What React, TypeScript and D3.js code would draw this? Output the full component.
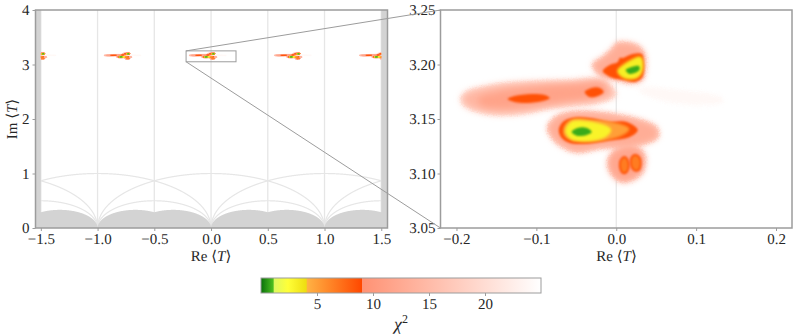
import React, { useRef, useEffect } from 'react';
import * as d3 from 'd3';

type Pt = [number, number];

// chi^2 colour map
const chiStops = [0, 1.1, 1.15, 2.4, 4.05, 4.1, 9, 9.05, 25];
const chiColors = ['#0a700a', '#4cc020', '#dcf860', '#ffff38', '#eedd10', '#ffb244', '#ff4800', '#ff9274', '#ffffff'];

const xTicksLeft = [-1.5, -1, -0.5, 0, 0.5, 1, 1.5];
const yTicksLeft = [0, 1, 2, 3, 4];
const xTicksRight = [-0.2, -0.1, 0, 0.1, 0.2];
const yTicksRight = [3.05, 3.1, 3.15, 3.2, 3.25];
const barTicks = [5, 10, 15, 20];

// periodic copies of the allowed region in the left panel
const tileOffsets = [-1.5, -0.75, 0, 0.75, 1.5];
const zoomBox = { re: [-0.22, 0.22], im: [3.05, 3.25] };

// fundamental domain geometry
const unitCentres = [-2, -1, 0, 1, 2];
const halfCentres = [-1.5, -0.5, 0.5, 1.5];
const thirdCentres = [-5 / 3, -4 / 3, -2 / 3, -1 / 3, 1 / 3, 2 / 3, 4 / 3, 5 / 3];
const verticals = [-1.5, -1, -0.5, 0, 0.5, 1, 1.5];

// chi^2 contours, (Re T, Im T)
const tail: Pt[] = [[0.0294, 3.1784], [0.0796, 3.1766], [0.1335, 3.1693], [0.1335, 3.1656], [0.0796, 3.1638], [0.0294, 3.1748]];
const stripHalo: Pt[] = [[-0.1936, 3.1693], [-0.1861, 3.1748], [-0.1685, 3.1785], [-0.1397, 3.1821], [-0.0984, 3.184], [-0.0559, 3.1849], [-0.0182, 3.1858], [-0.0056, 3.1785], [-0.0019, 3.172], [-0.0232, 3.1656], [-0.0559, 3.1629], [-0.0858, 3.1601], [-0.1184, 3.1555], [-0.1522, 3.1546], [-0.1773, 3.1582], [-0.1898, 3.1628]];
const stripInner: Pt[] = [[-0.1735, 3.1683], [-0.1459, 3.1748], [-0.0959, 3.1793], [-0.052, 3.1811], [-0.0157, 3.182], [-0.0132, 3.1747], [-0.0332, 3.1692], [-0.0645, 3.1665], [-0.1084, 3.1619], [-0.146, 3.1601], [-0.1685, 3.1628]];
const stripRedA: Pt[] = [[-0.136, 3.1683], [-0.1272, 3.1711], [-0.1059, 3.173], [-0.0896, 3.172], [-0.0833, 3.1693], [-0.0921, 3.1665], [-0.1109, 3.1647], [-0.1272, 3.1656]];
const stripRedB: Pt[] = [[-0.0395, 3.1748], [-0.0307, 3.1785], [-0.0207, 3.1785], [-0.0157, 3.1748], [-0.0232, 3.1711], [-0.0332, 3.1702]];

const upperHalo: Pt[] = [[-0.0294, 3.2005], [-0.0169, 3.2069], [-0.0044, 3.2152], [0.0006, 3.2197], [0.0169, 3.2197], [0.0294, 3.2161], [0.0357, 3.2087], [0.0357, 3.1931], [0.032, 3.1858], [0.0194, 3.1831], [0.0006, 3.1858], [-0.0169, 3.1885], [-0.0269, 3.195]];
const upperRed: Pt[] = [[-0.0169, 3.1941], [-0.0081, 3.1996], [0.0019, 3.2023], [0.0044, 3.206], [0.0081, 3.206], [0.0207, 3.2097], [0.032, 3.2097], [0.0345, 3.2023], [0.0345, 3.1931], [0.032, 3.1876], [0.0232, 3.184], [0.0081, 3.1858], [-0.0044, 3.1876], [-0.0119, 3.1904]];
const upperYellow: Pt[] = [[0.0031, 3.1941], [0.0094, 3.1987], [0.0194, 3.2032], [0.0294, 3.206], [0.032, 3.2014], [0.0307, 3.1931], [0.0269, 3.1895], [0.0182, 3.1876], [0.0081, 3.1895]];
const upperGreen: Pt[] = [[0.0119, 3.195], [0.0194, 3.1977], [0.0282, 3.1986], [0.0294, 3.1959], [0.0257, 3.1931], [0.0169, 3.1913], [0.0132, 3.1931]];

const middleHalo: Pt[] = [[-0.0858, 3.1418], [-0.0771, 3.151], [-0.062, 3.1555], [-0.0332, 3.1565], [0.0006, 3.1537], [0.0294, 3.1491], [0.0507, 3.1418], [0.052, 3.1335], [0.0382, 3.128], [0.0081, 3.1244], [-0.0207, 3.1235], [-0.0495, 3.1198], [-0.0708, 3.1262], [-0.0808, 3.1335]];
const middleRed: Pt[] = [[-0.072, 3.14], [-0.067, 3.1473], [-0.0558, 3.151], [-0.0332, 3.151], [-0.0081, 3.1473], [0.0132, 3.1473], [0.0269, 3.14], [0.0169, 3.1335], [-0.0119, 3.1299], [-0.042, 3.1271], [-0.0583, 3.128], [-0.0683, 3.1326]];
const middleOrange: Pt[] = [[-0.0645, 3.14], [-0.0608, 3.1455], [-0.052, 3.1491], [-0.0332, 3.1482], [-0.0081, 3.1464], [0.0144, 3.1409], [0.0069, 3.1362], [-0.0144, 3.1317], [-0.0395, 3.1308], [-0.0558, 3.1317], [-0.0633, 3.1354]];
const middleYellow: Pt[] = [[-0.062, 3.139], [-0.0558, 3.1464], [-0.042, 3.1473], [-0.0207, 3.1446], [-0.0081, 3.14], [-0.0169, 3.1335], [-0.042, 3.1308], [-0.0558, 3.1326]];
const middleGreen: Pt[] = [[-0.0558, 3.1381], [-0.0483, 3.1418], [-0.037, 3.1418], [-0.0307, 3.1381], [-0.037, 3.1354], [-0.0483, 3.1345]];

const lowerHalo: Pt[] = [[-0.0107, 3.1106], [-0.0044, 3.1198], [0.0081, 3.1244], [0.0257, 3.1244], [0.0357, 3.117], [0.0332, 3.1014], [0.0207, 3.0941], [0.0069, 3.0923], [-0.0056, 3.0987]];
const lowerLobeA: Pt[] = [[0.0044, 3.107], [0.0056, 3.1125], [0.0107, 3.1152], [0.0144, 3.1125], [0.0157, 3.106], [0.0132, 3.1014], [0.0081, 3.1005]];
const lowerLobeB: Pt[] = [[0.0182, 3.1088], [0.0194, 3.1152], [0.0245, 3.117], [0.0295, 3.1143], [0.0307, 3.1088], [0.0282, 3.1033], [0.0219, 3.1033]];

// paint order, back to front: contour, chi^2 level, blur and outward growth in the right panel
const layers: { pts: Pt[]; level: number; blur: number; grow?: number; speckle?: boolean; rim?: boolean }[] = [
  { pts: tail, level: 24, blur: 2, speckle: true },
  { pts: stripHalo, level: 21, blur: 1.4, grow: 1.2, speckle: true },
  { pts: upperHalo, level: 19, blur: 1.4, grow: 0.4, speckle: true },
  { pts: middleHalo, level: 19, blur: 1.4, grow: 0.8, speckle: true },
  { pts: lowerHalo, level: 19, blur: 1.4, speckle: true },
  { pts: stripHalo, level: 14.5, blur: 3.5 },
  { pts: stripInner, level: 11.5, blur: 3 },
  { pts: upperHalo, level: 13, blur: 3 },
  { pts: middleHalo, level: 13, blur: 3 },
  { pts: lowerHalo, level: 12, blur: 3 },
  { pts: stripRedA, level: 8.6, blur: 0.9 },
  { pts: stripRedB, level: 8.6, blur: 0.9 },
  { pts: lowerLobeA, level: 6.6, blur: 0.9, rim: true },
  { pts: lowerLobeB, level: 6.6, blur: 0.9, rim: true },
  { pts: upperRed, level: 8.6, blur: 0.9 },
  { pts: upperYellow, level: 3.2, blur: 1.5, grow: 1.5 },
  { pts: upperGreen, level: 0.8, blur: 1 },
  { pts: middleRed, level: 8.6, blur: 0.9 },
  { pts: middleOrange, level: 5, blur: 1.4, grow: 1.5 },
  { pts: middleYellow, level: 3, blur: 1.5, grow: 1.5 },
  { pts: middleGreen, level: 0.8, blur: 1 },
];

const WIDTH = 797;
const HEIGHT = 336;
const FONT = '"Liberation Serif", serif';
const TICK_FONT = 15;
const SPINE = '#9c9c9c';
const INK = '#262626';
const CURVE = '#e6e6e6';
const GREY = '#d3d3d3';

const App = () => {
  const chartRef = useRef<SVGSVGElement>(null);

  useEffect(() => {
    const svg = d3.select(chartRef.current);
    svg.selectAll('*').remove();
    svg.style('text-rendering', 'geometricPrecision');

    const chiColor = d3.scaleLinear<string>().domain(chiStops).range(chiColors).clamp(true);

    const xLeft = d3.scaleLinear().domain([-1.547, 1.555]).range([35.5, 387.5]);
    const yLeft = d3.scaleLinear().domain([0, 4]).range([228, 10]);
    const xRight = d3.scaleLinear().domain([-0.22, 0.22]).range([440.5, 792]);
    const yRight = d3.scaleLinear().domain([3.05, 3.25]).range([228, 10]);
    const xBar = d3.scaleLinear().domain([0, 25]).range([261, 541]);

    const defs = svg.append('defs');
    const addClip = (id: string, x: d3.ScaleLinear<number, number>, y: d3.ScaleLinear<number, number>) => {
      defs.append('clipPath').attr('id', id).append('rect')
        .attr('x', x.range()[0]).attr('y', y.range()[1])
        .attr('width', x.range()[1] - x.range()[0]).attr('height', y.range()[0] - y.range()[1]);
    };
    addClip('clip-left', xLeft, yLeft);
    addClip('clip-right', xRight, yRight);
    defs.append('clipPath').attr('id', 'clip-tiles').append('rect')
      .attr('x', xLeft(-1.5)).attr('y', yLeft(4))
      .attr('width', xLeft(1.5) - xLeft(-1.5)).attr('height', yLeft(0) - yLeft(4));

    // one blur filter per layer, halos also get a grainy edge
    const addBlur = (id: string, dev: number, speckle: boolean) => {
      const f = defs.append('filter').attr('id', id)
        .attr('x', -60).attr('y', -60).attr('width', 1000).attr('height', 500)
        .attr('filterUnits', 'userSpaceOnUse')
        .attr('color-interpolation-filters', 'sRGB');
      f.append('feGaussianBlur').attr('stdDeviation', dev).attr('result', 'b');
      if (speckle) {
        f.append('feTurbulence').attr('type', 'fractalNoise').attr('baseFrequency', 0.8)
          .attr('numOctaves', 2).attr('seed', 4).attr('result', 'n');
        f.append('feDisplacementMap').attr('in', 'b').attr('in2', 'n').attr('scale', 6)
          .attr('xChannelSelector', 'R').attr('yChannelSelector', 'G');
      }
    };
    layers.forEach((l, i) => addBlur(`blur-${i}`, l.blur, !!l.speckle));
    addBlur('blur-small', 0.45, false);

    const drawBlobs = (g: any, x: (v: number) => number, y: (v: number) => number, offset: number, small: boolean) => {
      const line = d3.line<Pt>().x(d => x(d[0] + offset)).y(d => y(d[1])).curve(d3.curveCatmullRomClosed.alpha(0.5));
      layers.forEach((l, i) => {
        const grow = small ? 0.9 : (l.grow || 0) * 2;
        const rim = l.rim && !small;
        g.append('path')
          .attr('d', line(l.pts))
          .attr('fill', chiColor(l.level))
          .attr('stroke', rim ? chiColor(8.6) : chiColor(l.level))
          .attr('stroke-width', rim ? 1.8 : grow)
          .attr('stroke-linejoin', 'round')
          .attr('filter', small ? 'url(#blur-small)' : `url(#blur-${i})`);
      });
    };

    const drawTicks = (axis: d3.Axis<d3.NumberValue>, translate: string) => {
      const g = svg.append('g').attr('transform', translate).call(axis as any);
      g.select('.domain').remove();
      g.selectAll('.tick line').attr('stroke', SPINE).attr('stroke-width', 1);
      g.selectAll('.tick text').attr('fill', INK).attr('font-family', FONT).attr('font-size', TICK_FONT);
      return g;
    };

    const frame = (x: d3.ScaleLinear<number, number>, y: d3.ScaleLinear<number, number>) => {
      svg.append('rect')
        .attr('x', x.range()[0]).attr('y', y.range()[1])
        .attr('width', x.range()[1] - x.range()[0]).attr('height', y.range()[0] - y.range()[1])
        .attr('fill', 'none').attr('stroke', SPINE).attr('stroke-width', 1.5);
    };

    // left panel
    const left = svg.append('g').attr('clip-path', 'url(#clip-left)');
    const arcPath = (centre: number, r: number) => {
      const xs = d3.range(centre - r, centre + r + 0.0005, 0.002);
      return d3.line<number>()
        .x(d => xLeft(d))
        .y(d => yLeft(Math.sqrt(Math.max(0, r * r - (d - centre) * (d - centre)))))(xs);
    };
    verticals.forEach(v => {
      left.append('line').attr('x1', xLeft(v)).attr('x2', xLeft(v))
        .attr('y1', yLeft(0)).attr('y2', yLeft(4))
        .attr('stroke', CURVE).attr('stroke-width', 1.3);
    });
    unitCentres.forEach(c => {
      left.append('path').attr('d', arcPath(c, 1)).attr('fill', 'none').attr('stroke', CURVE).attr('stroke-width', 1.2);
    });
    halfCentres.forEach(c => {
      left.append('path').attr('d', arcPath(c, 0.5)).attr('fill', 'none').attr('stroke', CURVE).attr('stroke-width', 1.2);
    });

    // grey excluded region: union of the radius 1/3 disks, plus the side bands
    const scallop = (v: number) => d3.max(thirdCentres, c => {
      const d = v - c;
      return d * d < 1 / 9 ? Math.sqrt(1 / 9 - d * d) : 0;
    }) as number;
    const area = d3.area<number>().x(d => xLeft(d)).y0(yLeft(0)).y1(d => yLeft(scallop(d)));
    left.append('path').attr('d', area(d3.range(-1.56, 1.56, 0.002))).attr('fill', GREY);
    left.append('rect').attr('x', xLeft.range()[0]).attr('y', yLeft(4))
      .attr('width', xLeft(-1.5) - xLeft.range()[0]).attr('height', yLeft(0) - yLeft(4)).attr('fill', GREY);
    left.append('rect').attr('x', xLeft(1.5)).attr('y', yLeft(4))
      .attr('width', xLeft.range()[1] - xLeft(1.5)).attr('height', yLeft(0) - yLeft(4)).attr('fill', GREY);

    const tiles = left.append('g').attr('clip-path', 'url(#clip-tiles)');
    tileOffsets.forEach(o => drawBlobs(tiles, xLeft, yLeft, o, true));

    frame(xLeft, yLeft);
    drawTicks(d3.axisBottom(xLeft).tickValues(xTicksLeft).tickSize(3).tickPadding(2).tickFormat(d3.format('.1f') as any), `translate(0,${yLeft(0)})`);
    drawTicks(d3.axisLeft(yLeft).tickValues(yTicksLeft).tickSize(3).tickPadding(3).tickFormat(d3.format('d') as any), `translate(${xLeft.range()[0]},0)`);

    // right panel
    const right = svg.append('g').attr('clip-path', 'url(#clip-right)');
    right.append('line').attr('x1', xRight(0)).attr('x2', xRight(0))
      .attr('y1', yRight.range()[0]).attr('y2', yRight.range()[1])
      .attr('stroke', CURVE).attr('stroke-width', 1.2);
    drawBlobs(right, xRight, yRight, 0, false);

    frame(xRight, yRight);
    drawTicks(d3.axisBottom(xRight).tickValues(xTicksRight).tickSize(3).tickPadding(2).tickFormat(d3.format('.1f') as any), `translate(0,${yRight.range()[0]})`);
    drawTicks(d3.axisLeft(yRight).tickValues(yTicksRight).tickSize(3).tickPadding(2).tickFormat(d3.format('.2f') as any), `translate(${xRight.range()[0]},0)`);

    // zoom indicator
    const zx0 = xLeft(zoomBox.re[0]);
    const zx1 = xLeft(zoomBox.re[1]);
    const zyTop = yLeft(zoomBox.im[1]);
    const zyBot = yLeft(zoomBox.im[0]);
    svg.append('rect').attr('x', zx0).attr('y', zyTop).attr('width', zx1 - zx0).attr('height', zyBot - zyTop)
      .attr('fill', 'none').attr('stroke', SPINE).attr('stroke-width', 1);
    svg.append('line').attr('x1', zx0).attr('y1', zyTop).attr('x2', xRight.range()[0]).attr('y2', yRight.range()[1])
      .attr('stroke', SPINE).attr('stroke-width', 1);
    svg.append('line').attr('x1', zx0).attr('y1', zyBot).attr('x2', xRight.range()[0]).attr('y2', yRight.range()[0])
      .attr('stroke', SPINE).attr('stroke-width', 1);

    // axis titles with math parts
    const mathLabel = (name: string, x: number, y: number, rotate: boolean) => {
      const t = svg.append('text')
        .attr('font-family', FONT).attr('font-size', 15).attr('fill', INK).attr('text-anchor', 'middle')
        .attr('transform', rotate ? `translate(${x},${y}) rotate(-90)` : `translate(${x},${y})`);
      t.append('tspan').text(`${name} ⟨`);
      t.append('tspan').attr('font-style', 'italic').text('T');
      t.append('tspan').text('⟩');
    };
    mathLabel('Re', 211, 261, false);
    mathLabel('Re', 616.5, 261, false);
    mathLabel('Im', 17, 119, true);

    // colour bar
    const grad = defs.append('linearGradient').attr('id', 'chi-bar');
    chiStops.forEach((s, i) => {
      grad.append('stop').attr('offset', s / 25).attr('stop-color', chiColors[i]);
    });
    svg.append('rect').attr('x', xBar.range()[0]).attr('y', 278)
      .attr('width', xBar.range()[1] - xBar.range()[0]).attr('height', 15)
      .attr('fill', 'url(#chi-bar)').attr('stroke', SPINE).attr('stroke-width', 1);
    drawTicks(d3.axisBottom(xBar).tickValues(barTicks).tickSize(3).tickPadding(2).tickFormat(d3.format('d') as any), 'translate(0,293)');

    const chi = svg.append('text').attr('x', 401).attr('y', 330)
      .attr('font-family', FONT).attr('font-size', 18).attr('fill', INK).attr('text-anchor', 'middle');
    chi.append('tspan').attr('font-style', 'italic').text('χ');
    chi.append('tspan').attr('font-size', 12).attr('dy', -7).text('2');
  }, []);

  return (
    <svg
      ref={chartRef}
      width={WIDTH}
      height={HEIGHT}
      style={{ position: 'absolute', left: 0, top: 0, background: '#fff' }}
    />
  );
};

export default App;
